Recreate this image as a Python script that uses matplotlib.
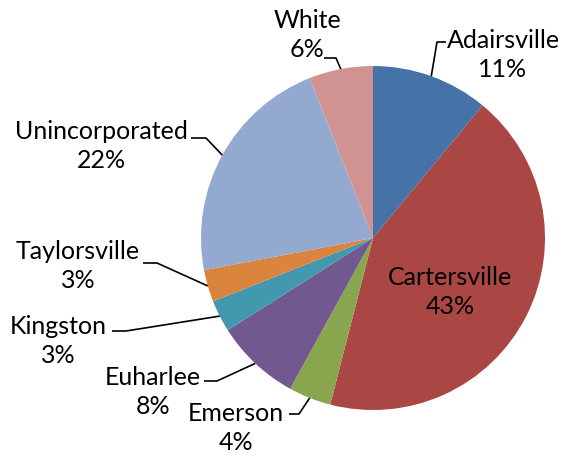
import matplotlib.pyplot as plt
import numpy as np

plt.rcParams['font.family'] = ['Lato', 'DejaVu Sans']

places = ["Adairsville", "Cartersville", "Emerson", "Euharlee", "Kingston",
          "Taylorsville", "Unincorporated", "White"]
shares = [11, 43, 4, 8, 3, 3, 22, 6]
colors = ["#4572A7", "#AA4643", "#89A54E", "#71588F", "#4198AF",
          "#DB843D", "#93A9CF", "#D19392"]

W, H = 563, 457
cx, cy, R = 373, 238, 172

# label centre (pixels) and elbow of the leader line; None = label inside the slice
label_pos = {
    "Adairsville": ((503, 55), [(446, 42), (437, 42)]),
    "Cartersville": ((450, 292), None),
    "Emerson": ((236, 428), [(289, 414), (299, 414)]),
    "Euharlee": ((153, 392), [(204, 381), (217, 381)]),
    "Kingston": ((58, 341), [(112, 331), (126, 331)]),
    "Taylorsville": ((78, 266), [(143, 263), (157, 263)]),
    "Unincorporated": ((101, 146), [(191, 138), (206, 138)]),
    "White": ((307, 35), [(324, 58), (336, 58)]),
}

fig = plt.figure(figsize=(W / 100, H / 100), dpi=100)
ax = fig.add_axes([0, 0, 1, 1])

# y axis runs downward, so counterclock=True draws clockwise on screen
wedges, _ = ax.pie(shares, colors=colors, center=(cx, cy), radius=R,
                   startangle=-90, counterclock=True,
                   wedgeprops=dict(linewidth=0))

total = sum(shares)
cum = 0
for name, val in zip(places, shares):
    mid = (cum + val / 2) / total * 2 * np.pi
    cum += val
    ex = cx + R * np.sin(mid)
    ey = cy - R * np.cos(mid)
    (tx, ty), elbow = label_pos[name]
    ax.text(tx, ty, f"{name}\n{round(val / total * 100)}%", ha="center",
            va="center", fontsize=18, linespacing=1.32, color="black")
    if elbow is not None:
        xs = [p[0] for p in elbow] + [ex]
        ys = [p[1] for p in elbow] + [ey]
        ax.plot(xs, ys, color="black", lw=1.2, solid_capstyle="butt")

ax.set_xlim(0, W)
ax.set_ylim(H, 0)
ax.set_aspect("equal")
ax.set_axis_off()
fig.savefig("out.png", dpi=100)
